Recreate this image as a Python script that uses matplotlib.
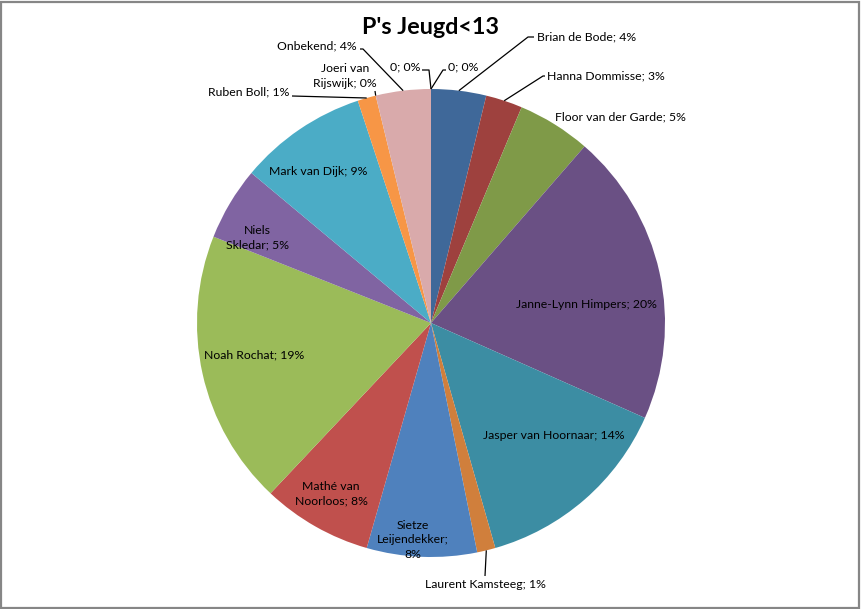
import numpy as np
import matplotlib
matplotlib.use('Agg')
import matplotlib.pyplot as plt
from matplotlib.patches import Rectangle

plt.rcParams['font.family'] = ['Lato', 'DejaVu Sans']

# goals per player, clockwise from 12 o'clock
names = ['Brian de Bode', 'Hanna Dommisse', 'Floor van der Garde', 'Janne-Lynn Himpers',
         'Jasper van Hoornaar', 'Laurent Kamsteeg', 'Sietze Leijendekker', 'Mathé van Noorloos',
         'Noah Rochat', 'Niels Skledar', 'Mark van Dijk', 'Ruben Boll',
         'Joeri van Rijswijk', 'Onbekend', '0', '0']
counts = [3, 2, 4, 16, 11, 1, 6, 6, 15, 4, 7, 1, 0, 3, 0, 0]
colors = ['#3F6899', '#9E413E', '#7F9A48', '#6A5084', '#3C8DA3', '#D07F3C',
          '#4F81BD', '#C0504D', '#9BBB59', '#8064A2', '#4BACC6', '#F79646',
          '#8EA9DB', '#D9AAAB', '#B9CDE5', '#E6B9B8']

W, H = 861, 609
CX, CY, R = 431, 323, 234

fig = plt.figure(figsize=(W / 100, H / 100), dpi=100)
ax = fig.add_axes([(CX - R) / W, (H - CY - R) / H, 2 * R / W, 2 * R / H])
ax.axis('off')

wedges, _ = ax.pie(counts, colors=colors, startangle=90, counterclock=False,
                   radius=1, wedgeprops=dict(linewidth=0))
ax.set_xlim(-1, 1)
ax.set_ylim(-1, 1)

total = sum(counts)
labels = []
for n, c in enumerate(counts):
    labels.append('%s; %d%%' % (names[n], round(c / total * 100)))


def px(x, y):
    # pixel position -> data coordinates of the pie axes
    return (x - CX) / R, (CY - y) / R


def mid(i, r=1.0, shift=0.0):
    w = wedges[i]
    a = np.deg2rad((w.theta1 + w.theta2) / 2 + shift)
    return r * np.cos(a), r * np.sin(a)


fs = 8.8
ls = 1.35
# labels inside the slices: (index, radius factor, angle shift, text)
inside = [
    (3, 0.669, -5.9, labels[3]),
    (4, 0.714, 6.5, labels[4]),
    (6, 0.93, -2.4, 'Sietze\nLeijendekker;\n8%'),
    (7, 0.846, -0.7, 'Mathé van\nNoorloos; 8%'),
    (8, 0.769, -2.3, labels[8]),
    (9, 0.825, 4.5, 'Niels\nSkledar; 5%'),
    (10, 0.805, 2.5, labels[10]),
]
for i, r, sh, txt in inside:
    ax.text(*mid(i, r, sh), txt, ha='center', va='center', fontsize=fs,
            linespacing=ls, color='black')

# labels outside with leader lines: index, text pos (px), ha, leader path (px)
outside = [
    (0, (537, 37), 'left', [(528, 37), (534, 37)]),
    (1, (547, 76), 'left', [(543, 76), (545, 76)]),
    (2, (555, 117), 'left', []),
    (5, (485, 585), 'center', [(485, 576)]),
    (11, (289, 92), 'right', [(292, 96)]),
    (12, (345, 76), 'center', [(375, 91)]),
    (13, (357, 46), 'right', [(363, 49), (360, 49)]),
    (14, (420, 67), 'right', [(429, 70), (422, 70)]),
    (15, (448, 67), 'left', [(443, 70), (446, 70)]),
]
for i, (tx, ty), ha, path in outside:
    txt = labels[i]
    if i == 12:
        txt = 'Joeri van\nRijswijk; 0%'
    ax.text(*px(tx, ty), txt, ha=ha, va='center', fontsize=fs,
            linespacing=ls, color='black', clip_on=False)
    if path:
        mx, my = mid(i)
        xs = [mx] + [px(*p)[0] for p in path]
        ys = [my] + [px(*p)[1] for p in path]
        ax.plot(xs, ys, color='black', linewidth=0.9, solid_capstyle='butt',
                clip_on=False)

fig.text(CX / W, 1 - 27 / H, "P's Jeugd<13", ha='center', va='center',
         fontsize=16.8, fontweight='bold')

fig.patches.append(Rectangle((0.5 / W, 1.5 / H), 858.5 / W, 606 / H,
                             transform=fig.transFigure, fill=False,
                             edgecolor='#868686', linewidth=1.6))

fig.savefig('out.png', dpi=100)
